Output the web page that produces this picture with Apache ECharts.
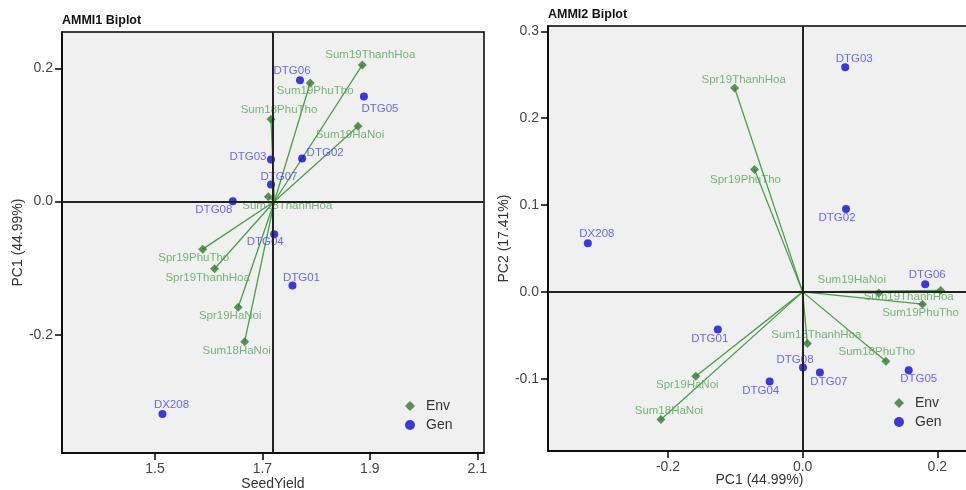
<!DOCTYPE html>
<html>
<head>
<meta charset="utf-8">
<script src="https://cdn.jsdelivr.net/npm/echarts@6/dist/echarts.min.js"></script>
<style>
html,body{margin:0;padding:0;background:#fff;}
#chart{width:966px;height:490px;}
</style>
</head>
<body>
<div id="chart"></div>
<script>
// ---------- data ----------
const envNames = ['Sum19ThanhHoa','Sum19PhuTho','Sum18PhuTho','Sum19HaNoi','Sum18ThanhHoa','Spr19PhuTho','Spr19ThanhHoa','Spr19HaNoi','Sum18HaNoi'];
const envYield = [1.886, 1.789, 1.716, 1.878, 1.711, 1.589, 1.611, 1.655, 1.667];
const envPC1   = [0.205, 0.178, 0.1236, 0.113, 0.007, -0.0715, -0.101, -0.1587, -0.2105];
const envPC2   = [0.0016, -0.0142, -0.0798, -0.0012, -0.0595, 0.141, 0.2347, -0.0971, -0.147];

const genNames = ['DTG01','DTG02','DTG03','DTG04','DTG05','DTG06','DTG07','DTG08','DX208'];
const genYield = [1.756, 1.774, 1.716, 1.722, 1.889, 1.770, 1.716, 1.645, 1.514];
const genPC1   = [-0.126, 0.0644, 0.0632, -0.049, 0.1575, 0.182, 0.0256, 0.0005, -0.319];
const genPC2   = [-0.0433, 0.0953, 0.2585, -0.1032, -0.0902, 0.0089, -0.0929, -0.0871, 0.0561];

const grandMean = 1.7223;

const ticksX1 = [1.5, 1.7, 1.9, 2.1];
const ticksY1 = [-0.2, 0.0, 0.2];
const ticksX2 = [-0.2, 0.0, 0.2];
const ticksY2 = [-0.1, 0.0, 0.1, 0.2, 0.3];

// ---------- label placement (style) ----------
const lblEnv1 = {
  Sum19ThanhHoa:[8,-10], Sum19PhuTho:[5,8], Sum18PhuTho:[8,-9], Sum19HaNoi:[-8,9],
  Sum18ThanhHoa:[19,9], Spr19PhuTho:[-9,9], Spr19ThanhHoa:[-7,9], Spr19HaNoi:[-8,9], Sum18HaNoi:[-8,9]
};
const lblGen1 = {
  DTG06:[-8,-9], DTG05:[16,12], DTG03:[-23,-3], DTG02:[23,-6], DTG07:[8,-8],
  DTG08:[-19,9], DTG04:[-9,8], DTG01:[9,-8], DX208:[9,-9]
};
const lblEnv2 = {
  Spr19ThanhHoa:[9,-8.5], Spr19PhuTho:[-9,10], Sum19HaNoi:[-27,-13], Sum19ThanhHoa:[-32,6],
  Sum19PhuTho:[-2,9], Sum18ThanhHoa:[9,-9], Sum18PhuTho:[-9,-9], Spr19HaNoi:[-8.5,9], Sum18HaNoi:[8,-9]
};
const lblGen2 = {
  DTG03:[9,-9], DTG02:[-9,9], DX208:[9,-9], DTG06:[2,-9], DTG01:[-8,9],
  DTG08:[-8,-8], DTG07:[9,9], DTG04:[-9,9], DTG05:[10,9]
};

const FONT = '"Liberation Sans", Arial, sans-serif';
const GREEN_MK = '#2f7a2f', GREEN_LN = '#48a048', GREEN_TX = '#55a655';
const BLUE_MK = '#0a0ad8', BLUE_TX = '#4646ee';

function pts(names, xs, ys, offs) {
  return names.map((n, i) => ({
    name: n, value: [xs[i], ys[i]],
    label: { offset: offs[n] || [0, 0] }
  }));
}
function vecs(xs, ys, ox, oy) {
  return xs.map((x, i) => ({ coords: [[ox, oy], [x, ys[i]]] }));
}

const fmt1 = v => (Math.abs(v) < 1e-9 ? 0 : v).toFixed(1);

function axis(idx, min, max, ticks, name, gap) {
  return {
    gridIndex: idx, type: 'value', min: min, max: max,
    name: name, nameLocation: 'middle', nameGap: gap, nameMoveOverlap: false,
    nameTextStyle: { fontSize: 14, color: '#333', fontFamily: FONT },
    axisLine: { show: true, onZero: false, lineStyle: { color: '#000', width: 1.5 } },
    axisTick: { show: true, length: 7, customValues: ticks, lineStyle: { color: '#000', width: 1.5 } },
    axisLabel: { customValues: ticks, formatter: fmt1, fontSize: 14, color: '#444', margin: 9, fontFamily: FONT },
    splitLine: { show: false }
  };
}

function labelStyle(color) {
  return { show: true, position: 'inside', formatter: '{b}', color: color, fontSize: 11.5, fontFamily: FONT };
}

const option = {
  animation: false,
  textStyle: { fontFamily: FONT },
  title: [
    { text: 'AMMI1 Biplot', left: 62, top: 14, padding: 0, textStyle: { fontSize: 12.5, fontWeight: 'bold', color: '#111', fontFamily: FONT } },
    { text: 'AMMI2 Biplot', left: 548, top: 8, padding: 0, textStyle: { fontSize: 12.5, fontWeight: 'bold', color: '#111', fontFamily: FONT } }
  ],
  legend: [
    { orient: 'vertical', left: 400, top: 394, itemWidth: 10, itemHeight: 10, itemGap: 5, data: ['Env', 'Gen'],
      textStyle: { fontSize: 14, color: '#333', padding: [0, 0, 0, 6] } },
    { orient: 'vertical', left: 889, top: 391, itemWidth: 10, itemHeight: 10, itemGap: 5, data: ['Env', 'Gen'],
      textStyle: { fontSize: 14, color: '#333', padding: [0, 0, 0, 6] } }
  ],
  grid: [
    { left: 62, top: 32, width: 422, height: 421, outerBoundsMode: 'none', containLabel: false,
      show: true, backgroundColor: '#f0f0f0', borderColor: '#000', borderWidth: 1.5 },
    { left: 548, top: 26, width: 423, height: 425, outerBoundsMode: 'none', containLabel: false,
      show: true, backgroundColor: '#f0f0f0', borderColor: '#000', borderWidth: 1.5 }
  ],
  xAxis: [
    axis(0, 1.327, 2.1125, ticksX1, 'SeedYield', 24),
    axis(1, -0.3782, 0.25, ticksX2, 'PC1 (44.99%)', 22)
  ],
  yAxis: [
    axis(0, -0.3776, 0.2545, ticksY1, 'PC1 (44.99%)', 37),
    axis(1, -0.1832, 0.3061, ticksY2, 'PC2 (17.41%)', 37)
  ],
  series: [
    // reference lines
    { type: 'line', xAxisIndex: 0, yAxisIndex: 0, data: [], z: 1, silent: true,
      markLine: { symbol: 'none', silent: true, label: { show: false }, animation: false,
        lineStyle: { color: '#222', width: 2, type: 'solid' },
        data: [{ xAxis: grandMean }, { yAxis: 0 }] } },
    { type: 'line', xAxisIndex: 1, yAxisIndex: 1, data: [], z: 1, silent: true,
      markLine: { symbol: 'none', silent: true, label: { show: false }, animation: false,
        lineStyle: { color: '#222', width: 2, type: 'solid' },
        data: [{ xAxis: 0 }, { yAxis: 0 }] } },
    // environment vectors
    { type: 'lines', coordinateSystem: 'cartesian2d', xAxisIndex: 0, yAxisIndex: 0, z: 2, silent: true,
      lineStyle: { color: GREEN_LN, width: 1.3, opacity: 1 },
      data: vecs(envYield, envPC1, grandMean, 0) },
    { type: 'lines', coordinateSystem: 'cartesian2d', xAxisIndex: 1, yAxisIndex: 1, z: 2, silent: true,
      lineStyle: { color: GREEN_LN, width: 1.3, opacity: 1 },
      data: vecs(envPC1, envPC2, 0, 0) },
    // points
    { name: 'Env', type: 'scatter', xAxisIndex: 0, yAxisIndex: 0, z: 3, symbol: 'diamond', symbolSize: 9,
      itemStyle: { color: GREEN_MK }, label: labelStyle(GREEN_TX),
      data: pts(envNames, envYield, envPC1, lblEnv1) },
    { name: 'Gen', type: 'scatter', xAxisIndex: 0, yAxisIndex: 0, z: 3, symbol: 'circle', symbolSize: 8,
      itemStyle: { color: BLUE_MK }, label: labelStyle(BLUE_TX),
      data: pts(genNames, genYield, genPC1, lblGen1) },
    { name: 'Env', type: 'scatter', xAxisIndex: 1, yAxisIndex: 1, z: 3, symbol: 'diamond', symbolSize: 9,
      itemStyle: { color: GREEN_MK }, label: labelStyle(GREEN_TX),
      data: pts(envNames, envPC1, envPC2, lblEnv2) },
    { name: 'Gen', type: 'scatter', xAxisIndex: 1, yAxisIndex: 1, z: 3, symbol: 'circle', symbolSize: 8,
      itemStyle: { color: BLUE_MK }, label: labelStyle(BLUE_TX),
      data: pts(genNames, genPC1, genPC2, lblGen2) }
  ]
};

const chart = echarts.init(document.getElementById('chart'), null, { renderer: 'canvas' });
chart.setOption(option);
</script>
</body>
</html>
